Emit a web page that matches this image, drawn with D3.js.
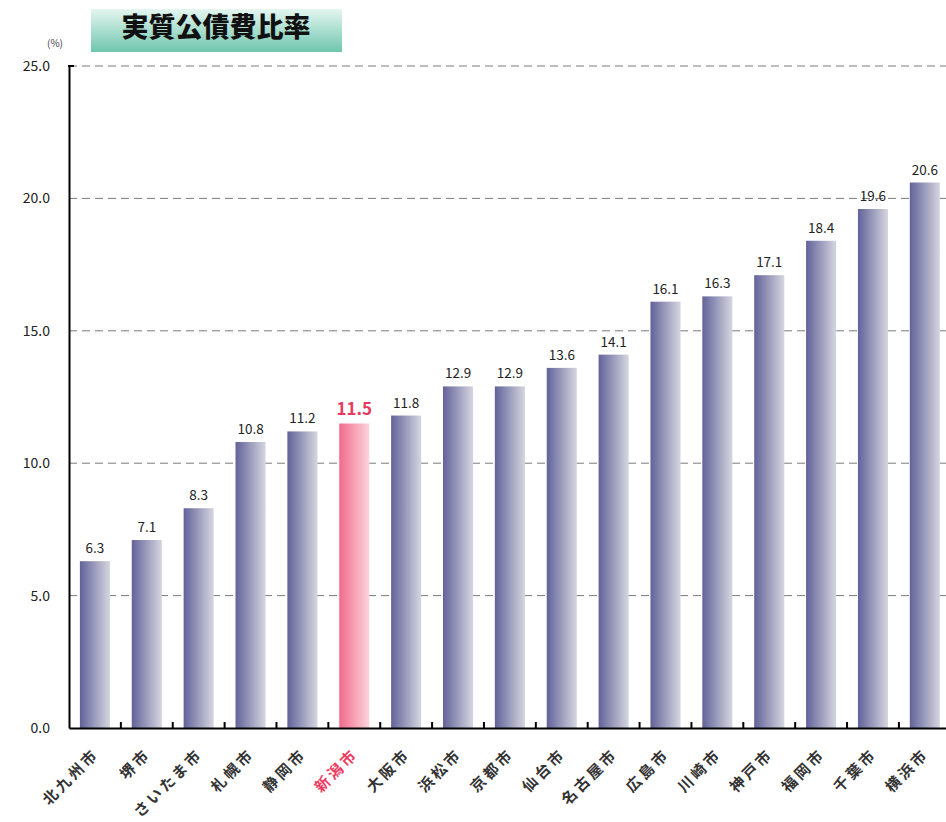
<!DOCTYPE html>
<html>
<head>
<meta charset="utf-8">
<script src="https://cdn.jsdelivr.net/npm/d3@7"></script>
<style>
  body { margin: 0; background: #fff; }
  text { font-family: "Noto Sans CJK JP", "DejaVu Sans", sans-serif; }
</style>
</head>
<body>
<div id="chart"></div>
<script>
// data
const cities = ["北九州市", "堺市", "さいたま市", "札幌市", "静岡市", "新潟市", "大阪市", "浜松市",
                "京都市", "仙台市", "名古屋市", "広島市", "川崎市", "神戸市", "福岡市", "千葉市", "横浜市"];
const ratios = [6.3, 7.1, 8.3, 10.8, 11.2, 11.5, 11.8, 12.9, 12.9, 13.6, 14.1, 16.1, 16.3, 17.1, 18.4, 19.6, 20.6];
const yTicks = [0, 5, 10, 15, 20, 25];
const highlight = "新潟市";
const title = "実質公債費比率";

const WIDTH = 946, HEIGHT = 822;
const MARGIN = { LEFT: 69, TOP: 66, BOTTOM: 728 };

const data = cities.map((c, i) => ({ city: c, value: ratios[i] }));

const svg = d3.select("#chart").append("svg")
    .attr("width", WIDTH)
    .attr("height", HEIGHT);

const defs = svg.append("defs");
const gBlue = defs.append("linearGradient").attr("id", "gBlue");
gBlue.append("stop").attr("offset", "0%").attr("stop-color", "#62629a");
gBlue.append("stop").attr("offset", "100%").attr("stop-color", "#d6d6e0");
const gPink = defs.append("linearGradient").attr("id", "gPink");
gPink.append("stop").attr("offset", "0%").attr("stop-color", "#f26a8a");
gPink.append("stop").attr("offset", "100%").attr("stop-color", "#fbd6de");
const gTitle = defs.append("linearGradient").attr("id", "gTitle")
    .attr("x1", 0).attr("y1", 0).attr("x2", 0).attr("y2", 1);
gTitle.append("stop").attr("offset", "0%").attr("stop-color", "#e4f6f0");
gTitle.append("stop").attr("offset", "100%").attr("stop-color", "#6fc6ad");

// scales
const x = d3.scaleBand()
    .domain(cities)
    .range([MARGIN.LEFT, MARGIN.LEFT + 51.87 * cities.length])
    .paddingInner(0.42)
    .paddingOuter(0.21);

const y = d3.scaleLinear()
    .domain([0, 25])
    .range([MARGIN.BOTTOM, MARGIN.TOP]);

// title box
svg.append("rect")
    .attr("x", 91).attr("y", 9)
    .attr("width", 251).attr("height", 43)
    .attr("fill", "url(#gTitle)");
svg.append("text")
    .attr("x", 216).attr("y", 37)
    .attr("text-anchor", "middle")
    .style("font-size", "27px")
    .style("font-weight", "900")
    .attr("fill", "#111")
    .text(title);

svg.append("text")
    .attr("x", 55).attr("y", 47)
    .attr("text-anchor", "middle")
    .style("font-size", "10px")
    .attr("fill", "#444")
    .text("(%)");

// gridlines
svg.append("g")
    .selectAll("line")
    .data(yTicks.filter(d => d > 0))
    .join("line")
    .attr("x1", MARGIN.LEFT).attr("x2", WIDTH)
    .attr("y1", d => y(d)).attr("y2", d => y(d))
    .attr("stroke", "#7a7a7a")
    .attr("stroke-width", 1)
    .attr("stroke-dasharray", "8,5");

// bars
svg.append("g")
    .selectAll("rect")
    .data(data)
    .join("rect")
    .attr("x", d => x(d.city))
    .attr("y", d => y(d.value))
    .attr("width", x.bandwidth())
    .attr("height", d => y(0) - y(d.value))
    .attr("fill", d => d.city === highlight ? "url(#gPink)" : "url(#gBlue)");

// value labels
svg.append("g")
    .selectAll("text")
    .data(data)
    .join("text")
    .attr("x", d => x(d.city) + x.bandwidth() / 2)
    .attr("y", d => y(d.value) - 8)
    .attr("text-anchor", "middle")
    .style("font-size", d => d.city === highlight ? "17px" : "13.5px")
    .style("font-weight", d => d.city === highlight ? "bold" : "normal")
    .attr("fill", d => d.city === highlight ? "#e8395e" : "#222")
    .text(d => d.value.toFixed(1));

// y axis
const yAxis = svg.append("g")
    .attr("transform", `translate(${MARGIN.LEFT},0)`)
    .call(d3.axisLeft(y).tickValues(yTicks).tickSize(0).tickPadding(19).tickFormat(d3.format(".1f")));
yAxis.select(".domain").attr("stroke", "#000").attr("stroke-width", 2);
yAxis.selectAll("text").style("font-size", "14px").attr("fill", "#222");
svg.append("line")
    .attr("x1", MARGIN.LEFT - 1).attr("x2", MARGIN.LEFT + 5)
    .attr("y1", y(25)).attr("y2", y(25))
    .attr("stroke", "#000").attr("stroke-width", 2);

// x axis
const xAxis = svg.append("g")
    .attr("transform", `translate(0,${MARGIN.BOTTOM})`)
    .call(d3.axisBottom(x).tickSize(0).tickPadding(0));
xAxis.select(".domain").attr("stroke", "#000").attr("stroke-width", 2);
xAxis.selectAll("text")
    .attr("text-anchor", "end")
    .attr("dy", "0")
    .attr("transform", "translate(5,27) rotate(-45)")
    .style("font-size", "15px")
    .style("letter-spacing", "3px")
    .style("font-weight", "bold")
    .attr("fill", d => d === highlight ? "#ee3a60" : "#333");

// category boundary ticks
svg.append("g")
    .selectAll("line")
    .data(cities.slice(1))
    .join("line")
    .attr("x1", d => x(d) - x.step() * x.paddingInner() / 2)
    .attr("x2", d => x(d) - x.step() * x.paddingInner() / 2)
    .attr("y1", MARGIN.BOTTOM)
    .attr("y2", MARGIN.BOTTOM - 6)
    .attr("stroke", "#000")
    .attr("stroke-width", 2);
</script>
</body>
</html>
